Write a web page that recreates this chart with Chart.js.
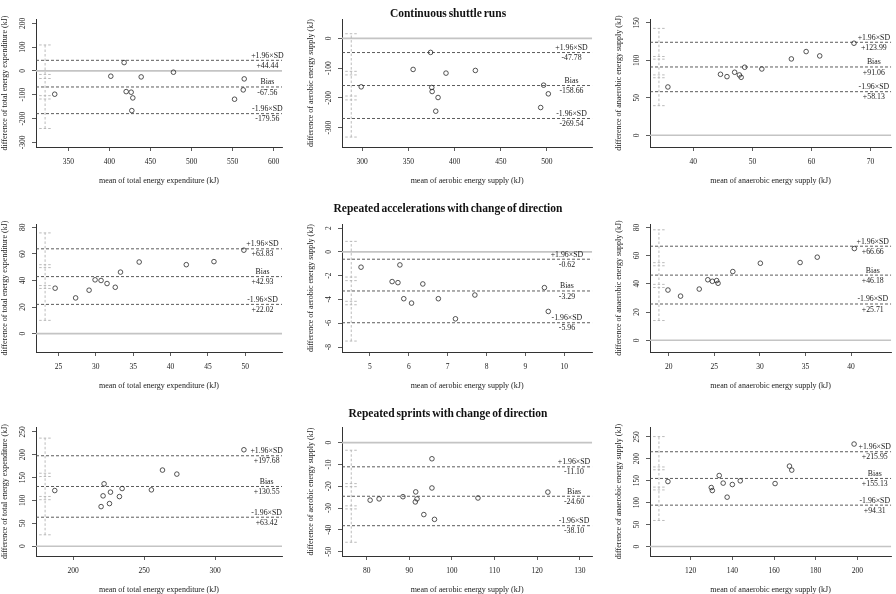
<!DOCTYPE html>
<html><head><meta charset="utf-8">
<script src="https://cdn.jsdelivr.net/npm/chart.js@4.4.1/dist/chart.umd.min.js"></script>
<style>
html,body{margin:0;padding:0;background:#fff;}
#wrap{position:relative;width:896px;height:594px;overflow:hidden;background:#fff;}
#wrap canvas{position:absolute;}
.ttl{position:absolute;left:0;width:896px;text-align:center;font-family:"Liberation Serif";font-weight:bold;font-size:11.5px;color:#111;line-height:12px;word-spacing:-1px;white-space:nowrap;}
</style></head><body><div id="wrap"></div>
<script>
// ---------- text ----------
const sectionTitles = ["Continuous shuttle runs", "Repeated accelerations with change of direction", "Repeated sprints with change of direction"];
const xTitles = ["mean of total energy expenditure (kJ)", "mean of aerobic energy supply (kJ)", "mean of anaerobic energy supply (kJ)"];
const yTitles = ["difference of total energy expenditure (kJ)", "difference of aerobic energy supply (kJ)", "difference of anaerobic energy supply (kJ)"];
const loaNames = ["+1.96\u00d7SD", "Bias", "-1.96\u00d7SD"];

// ---------- Continuous shuttle runs ----------
const csrTotalMean = [333.4, 401.7, 417.9, 420.4, 426.5, 428.5, 427.3, 438.7, 478.0, 552.4, 563.0, 564.2];
const csrTotalDiff = [-97.9, -22.3, 34.9, -87.0, -89.5, -113.4, -166.8, -25.2, -5.5, -119.0, -79.8, -33.6];
const csrTotalLoA = [44.44, -67.56, -179.56];
const csrTotalCI = [[-15, 109], [-104, -32], [-242, -118]];
const csrTotalXTicks = [350, 400, 450, 500, 550, 600];
const csrTotalYTicks = [-300, -200, -100, 0, 100, 200];
const csrTotalXRange = [310.6, 610.2];
const csrTotalYRange = [-319.7, 218];

const csrAeroMean = [298.9, 355.1, 374.0, 375.3, 375.7, 382.1, 379.6, 390.7, 422.5, 496.4, 501.5, 493.2];
const csrAeroDiff = [-163.1, -104.6, -47.3, -165.3, -178.8, -199.0, -245.0, -117.0, -108.0, -157.5, -186.6, -232.7];
const csrAeroLoA = [-47.78, -158.66, -269.54];
const csrAeroCI = [[-111, 15.5], [-194, -123], [-332, -207]];
const csrAeroXTicks = [300, 350, 400, 450, 500];
const csrAeroYTicks = [-300, -200, -100, 0];
const csrAeroXRange = [278.1, 549];
const csrAeroYRange = [-365.4, 65];

const csrAnaeMean = [35.7, 44.6, 45.7, 47.0, 47.8, 48.1, 48.7, 51.6, 56.6, 59.1, 61.4, 67.2];
const csrAnaeDiff = [64.4, 81.3, 78.2, 84.0, 80.4, 77.3, 90.7, 88.4, 101.8, 111.6, 105.8, 122.7];
const csrAnaeLoA = [123.99, 91.06, 58.13];
const csrAnaeCI = [[105, 142.5], [80.5, 101.5], [39.5, 76.7]];
const csrAnaeXTicks = [40, 50, 60, 70];
const csrAnaeYTicks = [0, 50, 100, 150];
const csrAnaeXRange = [32.67, 73.5];
const csrAnaeYRange = [-15.6, 155];

// ---------- Repeated accelerations with change of direction ----------
const raTotalMean = [24.56, 27.3, 29.1, 29.9, 30.7, 31.5, 32.6, 33.3, 35.8, 42.1, 45.8, 49.8];
const raTotalDiff = [34.2, 26.9, 32.7, 40.5, 40.0, 37.7, 34.9, 46.3, 53.9, 51.9, 54.2, 62.8];
const raTotalLoA = [63.83, 42.93, 22.02];
const raTotalCI = [[51.9, 75.8], [36.2, 49.7], [10, 34]];
const raTotalXTicks = [25, 30, 35, 40, 45, 50];
const raTotalYTicks = [0, 20, 40, 60, 80];
const raTotalXRange = [22.0, 54.9];
const raTotalYRange = [-13.8, 82.5];

const raAeroMean = [4.77, 5.77, 5.57, 5.72, 6.36, 5.87, 6.07, 6.76, 7.20, 7.70, 9.49, 9.59];
const raAeroDiff = [-1.29, -1.10, -2.50, -2.59, -2.70, -3.94, -4.31, -3.94, -5.63, -3.63, -3.01, -5.01];
const raAeroLoA = [-0.62, -3.29, -5.96];
const raAeroCI = [[-2.12, 0.88], [-4.16, -2.42], [-7.5, -4.45]];
const raAeroXTicks = [5, 6, 7, 8, 9, 10];
const raAeroYTicks = [-8, -6, -4, -2, 0, 2];
const raAeroXRange = [4.28, 10.72];
const raAeroYRange = [-8.42, 2.34];

const raAnaeMean = [19.92, 21.30, 23.35, 24.29, 24.79, 25.26, 25.41, 27.03, 30.05, 34.41, 36.29, 40.36];
const raAnaeDiff = [35.6, 31.3, 36.3, 42.9, 41.8, 42.3, 40.4, 48.7, 54.6, 55.1, 58.9, 65.0];
const raAnaeLoA = [66.66, 46.18, 25.71];
const raAnaeCI = [[55, 78.3], [39.6, 52.8], [14, 37.4]];
const raAnaeXTicks = [20, 25, 30, 35, 40];
const raAnaeYTicks = [0, 20, 40, 60, 80];
const raAnaeXRange = [17.95, 44.4];
const raAnaeYRange = [-8.3, 82.4];

// ---------- Repeated sprints with change of direction ----------
const rsTotalMean = [187.1, 219.7, 221.1, 221.8, 225.6, 226.3, 232.6, 234.5, 255.1, 262.9, 273.0, 320.2];
const rsTotalDiff = [121.7, 86.6, 110.1, 136.4, 93.2, 118.2, 108.5, 126.1, 123.2, 166.4, 157.6, 210.8];
const rsTotalLoA = [197.68, 130.55, 63.42];
const rsTotalCI = [[159.5, 236.2], [108.8, 152.3], [25, 101.7]];
const rsTotalXTicks = [200, 250, 300];
const rsTotalYTicks = [0, 50, 100, 150, 200, 250];
const rsTotalXRange = [173.9, 347];
const rsTotalYRange = [-21.3, 260.5];

const rsAeroMean = [80.8, 82.9, 88.5, 91.5, 91.8, 91.4, 93.4, 95.3, 95.3, 95.9, 106.1, 122.5];
const rsAeroDiff = [-26.4, -25.8, -24.8, -22.6, -25.8, -27.2, -33.0, -7.4, -20.8, -35.2, -25.4, -22.7];
const rsAeroLoA = [-11.10, -24.60, -38.10];
const rsAeroCI = [[-18.8, -3.5], [-29, -20.2], [-45.7, -30.4]];
const rsAeroXTicks = [80, 90, 100, 110, 120, 130];
const rsAeroYTicks = [-50, -40, -30, -20, -10, 0];
const rsAeroXRange = [74.2, 132.9];
const rsAeroYRange = [-52, 7.16];

const rsAnaeMean = [109.1, 129.9, 130.4, 133.7, 135.6, 137.5, 140.0, 143.8, 160.5, 167.4, 168.5, 198.4];
const rsAnaeDiff = [148.1, 134.4, 127.6, 161.8, 144.5, 112.5, 141.3, 149.7, 143.5, 183.2, 174.1, 233.5];
const rsAnaeLoA = [215.95, 155.13, 94.31];
const rsAnaeCI = [[181.3, 250.5], [135.4, 174.9], [59.4, 129]];
const rsAnaeXTicks = [120, 140, 160, 180, 200];
const rsAnaeYTicks = [0, 50, 100, 150, 200, 250];
const rsAnaeXRange = [100.5, 216.2];
const rsAnaeYRange = [-21.5, 272.3];

// ---------- layout (page pixels) ----------
const colL = [36, 342, 650], colR = [282, 595, 895];
const rowT = [19, 224, 427], rowB = [147, 352, 556];
const cellX = [0, 298, 597, 896], cellY = [0, 195, 395, 594];
const titleY = [7, 202, 407];

const panels = [
  [csrTotalMean, csrTotalDiff, csrTotalLoA, csrTotalCI, csrTotalXTicks, csrTotalYTicks, csrTotalXRange, csrTotalYRange],
  [csrAeroMean, csrAeroDiff, csrAeroLoA, csrAeroCI, csrAeroXTicks, csrAeroYTicks, csrAeroXRange, csrAeroYRange],
  [csrAnaeMean, csrAnaeDiff, csrAnaeLoA, csrAnaeCI, csrAnaeXTicks, csrAnaeYTicks, csrAnaeXRange, csrAnaeYRange],
  [raTotalMean, raTotalDiff, raTotalLoA, raTotalCI, raTotalXTicks, raTotalYTicks, raTotalXRange, raTotalYRange],
  [raAeroMean, raAeroDiff, raAeroLoA, raAeroCI, raAeroXTicks, raAeroYTicks, raAeroXRange, raAeroYRange],
  [raAnaeMean, raAnaeDiff, raAnaeLoA, raAnaeCI, raAnaeXTicks, raAnaeYTicks, raAnaeXRange, raAnaeYRange],
  [rsTotalMean, rsTotalDiff, rsTotalLoA, rsTotalCI, rsTotalXTicks, rsTotalYTicks, rsTotalXRange, rsTotalYRange],
  [rsAeroMean, rsAeroDiff, rsAeroLoA, rsAeroCI, rsAeroXTicks, rsAeroYTicks, rsAeroXRange, rsAeroYRange],
  [rsAnaeMean, rsAnaeDiff, rsAnaeLoA, rsAnaeCI, rsAnaeXTicks, rsAnaeYTicks, rsAnaeXRange, rsAnaeYRange]
];

const FONT = '"Liberation Serif", "Times New Roman", serif';
const fmt = v => (v > 0 ? '+' : '') + v.toFixed(2);

const textPlugin = {
  id: 'baText',
  afterDraw(chart) {
    const o = chart.options.plugins.baText;
    const ctx = chart.ctx, a = chart.chartArea, xs = chart.scales.x, ys = chart.scales.y;
    ctx.save();
    ctx.fillStyle = '#1a1a1a';
    ctx.textAlign = 'center';
    ctx.textBaseline = 'middle';
    // x tick labels
    ctx.font = '7.5px ' + FONT;
    o.xTicks.forEach(v => ctx.fillText(String(v), xs.getPixelForValue(v), a.bottom + 15.3));
    // y tick labels (rotated)
    o.yTicks.forEach(v => {
      ctx.save();
      ctx.translate(a.left - 13.3, ys.getPixelForValue(v));
      ctx.rotate(-Math.PI / 2);
      ctx.fillText(String(v), 0, 0);
      ctx.restore();
    });
    // axis titles
    ctx.font = '8px ' + FONT;
    ctx.fillText(o.xTitle, (a.left + a.right) / 2, a.bottom + 34);
    ctx.save();
    ctx.translate(a.left - 30.8, (a.top + a.bottom) / 2);
    ctx.rotate(-Math.PI / 2);
    ctx.fillText(o.yTitle, 0, 0);
    ctx.restore();
    // limits of agreement annotations
    ctx.font = '7.8px ' + FONT;
    const lx = xs.getPixelForValue(o.labelX);
    o.loa.forEach((v, i) => {
      const py = ys.getPixelForValue(v);
      ctx.fillText(loaNames[i], lx, py - 4.6);
      ctx.fillText(fmt(v), lx, py + 5.6);
    });
    ctx.restore();
  }
};

const wrap = document.getElementById('wrap');

panels.forEach((p, k) => {
  const [mean, diff, loa, ci, xTicks, yTicks, xr, yr] = p;
  const r = Math.floor(k / 3), c = k % 3;
  const cx0 = cellX[c], cx1 = cellX[c + 1], cy0 = cellY[r], cy1 = cellY[r + 1];
  const cv = document.createElement('canvas');
  cv.width = cx1 - cx0; cv.height = cy1 - cy0;
  cv.style.left = cx0 + 'px'; cv.style.top = cy0 + 'px';
  cv.style.width = (cx1 - cx0) + 'px'; cv.style.height = (cy1 - cy0) + 'px';
  wrap.appendChild(cv);

  const span = xr[1] - xr[0];
  const ciX = xr[0] + 0.037 * span;
  const ciDx = 0.024 * span;
  const ciPts = [];
  ci.forEach(([lo, hi]) => {
    [lo, hi].forEach(v => {
      ciPts.push({x: ciX - ciDx, y: v}, {x: ciX + ciDx, y: v}, {x: ciX, y: null});
    });
  });
  const ciLo = Math.min(...ci.map(d => d[0])), ciHi = Math.max(...ci.map(d => d[1]));
  ciPts.push({x: ciX, y: ciLo}, {x: ciX, y: ciHi});

  const hline = v => [{x: xr[0], y: v}, {x: xr[1], y: v}];
  const lineDs = (data, color, width, dash, order) => ({
    type: 'scatter', data, showLine: true, borderColor: color, borderWidth: width,
    borderDash: dash, pointRadius: 0, pointHoverRadius: 0, fill: false, order, spanGaps: false
  });

  const datasets = [
    {
      type: 'scatter',
      data: mean.map((m, i) => ({x: m, y: diff[i]})),
      pointStyle: 'circle', pointRadius: 2.3, pointBorderWidth: 0.8,
      borderColor: '#2a2a2a', backgroundColor: 'rgba(0,0,0,0)', order: 0
    },
    lineDs(hline(0), '#c4c4c4', 1.6, [], 5),
    lineDs(ciPts, '#b3b3b3', 0.9, [2.5, 2], 4),
    ...loa.map(v => lineDs(hline(v), '#4a4a4a', 0.9, [3, 2], 3))
  ];

  const axisCommon = {
    type: 'linear',
    grid: {display: true, drawOnChartArea: false, drawTicks: true, tickLength: 4, color: '#333', lineWidth: 0.8},
    border: {display: true, color: '#333', width: 1},
    ticks: {display: false}
  };

  new Chart(cv, {
    type: 'scatter',
    data: {datasets},
    plugins: [textPlugin],
    options: {
      responsive: false, animation: false, events: [],
      layout: {padding: {left: 0, top: rowT[r] - cy0, right: cx1 - colR[c], bottom: 0}},
      plugins: {
        legend: {display: false}, tooltip: {enabled: false},
        baText: {xTicks, yTicks, loa, xTitle: xTitles[c], yTitle: yTitles[c], labelX: 1.05 * Math.max(...mean)}
      },
      scales: {
        x: Object.assign({}, axisCommon, {
          position: 'bottom', min: xr[0], max: xr[1],
          afterBuildTicks: s => { s.ticks = xTicks.map(v => ({value: v})); },
          afterFit: s => { s.height = cy1 - rowB[r]; }
        }),
        y: Object.assign({}, axisCommon, {
          position: 'left', min: yr[0], max: yr[1],
          afterBuildTicks: s => { s.ticks = yTicks.map(v => ({value: v})); },
          afterFit: s => { s.width = colL[c] - cx0; }
        })
      }
    }
  });
});

sectionTitles.forEach((t, i) => {
  const d = document.createElement('div');
  d.className = 'ttl';
  d.style.top = titleY[i] + 'px';
  d.textContent = t;
  wrap.appendChild(d);
});
</script></body></html>
